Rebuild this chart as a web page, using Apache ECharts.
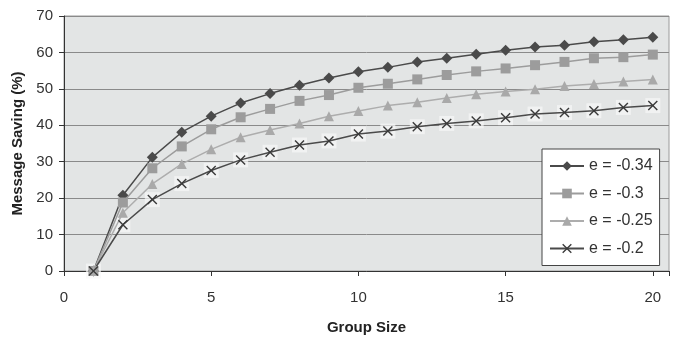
<!DOCTYPE html>
<html>
<head>
<meta charset="utf-8">
<script src="https://cdn.jsdelivr.net/npm/echarts@6/dist/echarts.min.js"></script>
<style>
html,body{margin:0;padding:0;background:#fff;}
#c{width:677px;height:340px;}
</style>
</head>
<body>
<div id="c"></div>
<script>
var groupSize = [1,2,3,4,5,6,7,8,9,10,11,12,13,14,15,16,17,18,19,20];
var e034 = [0,20.8,31.2,38.1,42.5,46.1,48.7,51.0,53.0,54.7,55.9,57.4,58.4,59.5,60.6,61.5,62.0,62.9,63.5,64.2];
var e030 = [0,18.8,28.2,34.2,38.9,42.2,44.5,46.7,48.3,50.3,51.4,52.6,53.8,54.8,55.6,56.5,57.4,58.4,58.7,59.4];
var e025 = [0,16.0,23.9,29.4,33.4,36.7,38.7,40.5,42.5,43.9,45.4,46.3,47.5,48.5,49.3,49.9,50.8,51.3,52.0,52.6];
var e020 = [0,12.7,19.6,24.0,27.6,30.5,32.6,34.6,35.7,37.6,38.4,39.6,40.5,41.2,42.1,43.1,43.5,44.0,44.9,45.4];
var seriesNames = ['e = -0.34','e = -0.3','e = -0.25','e = -0.2'];
var xTicks = [0,5,10,15,20];
var yTicks = [0,10,20,30,40,50,60,70];

function pairs(ys){ return groupSize.map(function(x,i){ return [x, ys[i]]; }); }
var xPath = 'path://M0,1 L1,0 L5,4 L9,0 L10,1 L6,5 L10,9 L9,10 L5,6 L1,10 L0,9 L4,5 Z';

var chart = echarts.init(document.getElementById('c'));
chart.setOption({
  animation: false,
  backgroundColor: '#ffffff',
  grid: {left: 64, top: 16, right: 8, bottom: 64, show: true, backgroundColor: '#e3e5e5', borderColor: '#9a9a9a', borderWidth: 1},
  xAxis: {
    type: 'value', min: 0, max: 20.55, interval: 5,
    name: 'Group Size', nameLocation: 'middle', nameGap: 49,
    nameTextStyle: {fontFamily: 'Liberation Sans', fontWeight: 'bold', fontSize: 15, color: '#222'},
    axisLine: {show: true, onZero: false, lineStyle: {color: '#333', width: 1}},
    axisTick: {show: true, length: 5, lineStyle: {color: '#333'}},
    axisLabel: {fontFamily: 'Liberation Sans', fontSize: 15, color: '#333', margin: 19,
      formatter: function(v){ return xTicks.indexOf(v) >= 0 ? String(v) : ''; }},
    splitLine: {show: false}
  },
  yAxis: {
    type: 'value', min: 0, max: 70, interval: 10,
    name: 'Message Saving (%)', nameLocation: 'middle', nameGap: 34,
    nameTextStyle: {fontFamily: 'Liberation Sans', fontWeight: 'bold', fontSize: 15, color: '#222'},
    axisLine: {show: true, lineStyle: {color: '#333', width: 1}},
    axisTick: {show: true, length: 5, lineStyle: {color: '#333'}},
    axisLabel: {fontFamily: 'Liberation Sans', fontSize: 15, color: '#333', margin: 11,
      formatter: function(v){ return yTicks.indexOf(v) >= 0 ? String(v) : ''; }},
    splitLine: {show: true, lineStyle: {color: '#8a8a8a', width: 1}}
  },
  legend: {
    data: seriesNames,
    orient: 'vertical', left: 542, top: 149,
    backgroundColor: '#ffffff', borderColor: '#444', borderWidth: 1,
    padding: [9, 7, 9, 7], itemWidth: 34, itemHeight: 12, itemGap: 11.5,
    textStyle: {fontFamily: 'Liberation Sans', fontSize: 16, color: '#333'}
  },
  series: [
    {name: seriesNames[0], type: 'line', data: pairs(e034), symbol: 'diamond', symbolSize: 11,
     itemStyle: {color: '#4a4a4a'}, lineStyle: {color: '#4a4a4a', width: 1.5}},
    {name: seriesNames[1], type: 'line', data: pairs(e030), symbol: 'rect', symbolSize: 10,
     itemStyle: {color: '#9c9c9c'}, lineStyle: {color: '#9c9c9c', width: 1.5}},
    {name: seriesNames[2], type: 'line', data: pairs(e025), symbol: 'triangle', symbolSize: 10,
     itemStyle: {color: '#a9a9a9'}, lineStyle: {color: '#adadad', width: 1.5}},
    {name: 'box', type: 'scatter', data: pairs(e020), symbol: 'rect', symbolSize: 15,
     itemStyle: {color: 'rgba(248,248,248,0.85)'}, silent: true},
    {name: seriesNames[3], type: 'line', data: pairs(e020), symbol: xPath, symbolSize: 10,
     itemStyle: {color: '#3a3a3a'}, lineStyle: {color: '#4a4a4a', width: 1.5}}
  ]
});
</script>
</body>
</html>
